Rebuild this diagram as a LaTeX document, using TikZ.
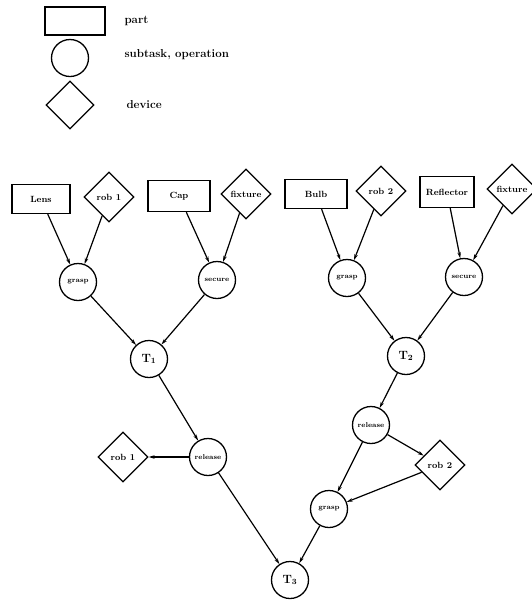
\documentclass[tikz,border=0pt]{standalone}
\usepackage{tikz}
\usetikzlibrary{arrows.meta,shapes.geometric}

\tikzset{
  partbox/.style={draw, line width=1.3pt, minimum width=58pt, minimum height=29pt, inner sep=1pt, font=\fontsize{9}{10}\selectfont\bfseries},
  taskcirc/.style={draw, circle, line width=1.3pt, minimum size=37pt, inner sep=0pt, font=\fontsize{7}{8}\selectfont\bfseries},
  bigtask/.style={taskcirc, font=\fontsize{12}{13}\selectfont\bfseries},
  devicebox/.style={draw, diamond, aspect=1, line width=1.3pt, minimum size=50pt, inner sep=0pt, font=\fontsize{9}{10}\selectfont\bfseries},
  legtext/.style={anchor=west, font=\fontsize{11.5}{12}\selectfont\bfseries},
  flow/.style={-{Stealth[length=6pt,width=3.5pt]}, line width=1.2pt},
}

\begin{document}
\begin{tikzpicture}[x=1pt, y=-1pt]
    %% Background
    \useasboundingbox (0,0) rectangle (532,606);

    %% Legend
    \node[partbox, minimum width=60pt, minimum height=28pt] (legpart) at (75,21) {};
    \node[taskcirc] (legtask) at (70,58) {};
    \node[devicebox, minimum size=48pt] (legdev) at (70,105) {};
    \node[legtext] (legparttxt) at (121,21) {part};
    \node[legtext] (legtasktxt) at (121,55) {subtask, operation};
    \node[legtext] (legdevtxt) at (123,105) {device};

    %% Left subtree
    \node[partbox] (lens) at (41,199) {Lens};
    \node[devicebox] (rob1) at (109,197) {rob 1};
    \node[partbox, minimum width=62pt, minimum height=31pt] (cap) at (179,196) {Cap};
    \node[devicebox] (fixt1) at (246,194) {fixture};
    \node[taskcirc] (grasp1) at (78,282) {grasp};
    \node[taskcirc] (secure1) at (217,280) {secure};
    \node[bigtask] (T1) at (149,359) {T$_{\mathbf{1}}$};

    %% Right subtree
    \node[partbox, minimum width=62pt] (bulb) at (316,194) {Bulb};
    \node[devicebox] (rob2) at (381,191) {rob 2};
    \node[partbox, minimum width=54pt, minimum height=31pt] (reflector) at (447,192) {Reflector};
    \node[devicebox] (fixt2) at (512,189) {fixture};
    \node[taskcirc] (grasp2) at (347,278) {grasp};
    \node[taskcirc] (secure2) at (464,277) {secure};
    \node[bigtask] (T2) at (406,356) {T$_{\mathbf{2}}$};

    %% Final assembly
    \node[taskcirc] (release1) at (208,457) {release};
    \node[devicebox] (rob1b) at (123,457) {rob 1};
    \node[taskcirc] (release2) at (371,425) {release};
    \node[devicebox] (rob2b) at (440,465) {rob 2};
    \node[taskcirc] (grasp3) at (329,509) {grasp};
    \node[bigtask] (T3) at (290,580) {T$_{\mathbf{3}}$};

    %% Connectors
    \draw[flow] (lens) -- (grasp1);
    \draw[flow] (rob1) -- (grasp1);
    \draw[flow] (cap) -- (secure1);
    \draw[flow] (fixt1) -- (secure1);
    \draw[flow] (grasp1) -- (T1);
    \draw[flow] (secure1) -- (T1);

    \draw[flow] (bulb) -- (grasp2);
    \draw[flow] (rob2) -- (grasp2);
    \draw[flow] (reflector) -- (secure2);
    \draw[flow] (fixt2) -- (secure2);
    \draw[flow] (grasp2) -- (T2);
    \draw[flow] (secure2) -- (T2);

    \draw[flow] (T1) -- (release1);
    \draw[flow] (release1) -- (rob1b);
    \draw[flow] (release1) -- (T3);
    \draw[flow] (T2) -- (release2);
    \draw[flow] (release2) -- (rob2b);
    \draw[flow] (release2) -- (grasp3);
    \draw[flow] (rob2b) -- (grasp3);
    \draw[flow] (grasp3) -- (T3);
\end{tikzpicture}
\end{document}
